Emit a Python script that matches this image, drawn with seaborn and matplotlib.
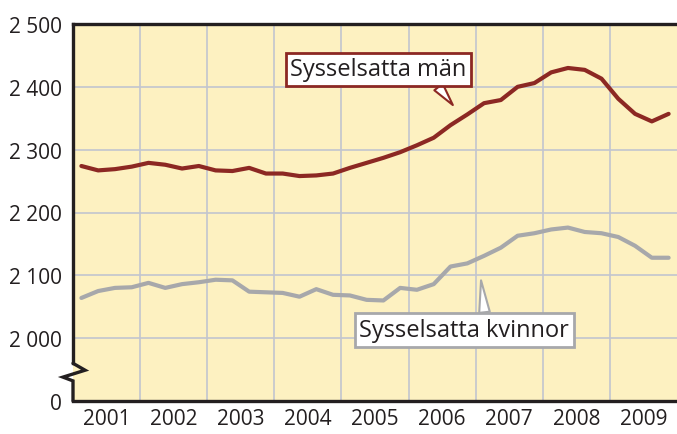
import numpy as np
import pandas as pd
import seaborn as sns
import matplotlib.pyplot as plt
from matplotlib.transforms import blended_transform_factory

# quarterly employment, thousands (2001 Q1 .. 2009 Q4)
years = [2001, 2002, 2003, 2004, 2005, 2006, 2007, 2008, 2009]
quarters = [1, 2, 3, 4]
man = [2274, 2267, 2269, 2273,
       2279, 2276, 2270, 2274,
       2267, 2266, 2271, 2262,
       2262, 2258, 2259, 2262,
       2271, 2279, 2287, 2296,
       2307, 2319, 2339, 2356,
       2374, 2379, 2400, 2406,
       2423, 2430, 2427, 2413,
       2381, 2357, 2345, 2357]
kvinnor = [2064, 2075, 2080, 2081,
           2088, 2080, 2086, 2089,
           2093, 2092, 2074, 2073,
           2072, 2066, 2078, 2069,
           2068, 2061, 2060, 2080,
           2077, 2086, 2114, 2119,
           2131, 2144, 2163, 2167,
           2173, 2176, 2169, 2167,
           2161, 2147, 2128, 2128]
ytick_vals = [1900, 2000, 2100, 2200, 2300, 2400, 2500]
ytick_labels = ["0", "2 000", "2 100", "2 200", "2 300", "2 400", "2 500"]

df = pd.DataFrame({
    "t": [y + (q - 0.5) / 4 for y in years for q in quarters],
    "man": man,
    "kvinnor": kvinnor,
})

sns.set_style("white")
plt.rcParams["font.family"] = ["Open Sans", "DejaVu Sans"]

red = "#8c2823"
grey = "#a7a8ab"
dark = "#231f20"

fig = plt.figure(figsize=(6.77, 4.35), dpi=100)
ax = fig.add_axes([73 / 677, 1 - 402 / 435, 604 / 677, 377 / 435])
ax.set_facecolor("#fdf1c1")

sns.lineplot(data=df, x="t", y="man", color=red, lw=3.0, ax=ax)
sns.lineplot(data=df, x="t", y="kvinnor", color=grey, lw=3.0, ax=ax)

ax.set_xlim(years[0], years[-1] + 1)
ax.set_ylim(ytick_vals[0], ytick_vals[-1])
ax.set_xticks(years[1:])
ax.set_xticklabels([])
ax.set_xticks([y + 0.5 for y in years], minor=True)
ax.set_xticklabels([str(y) for y in years], minor=True)
ax.set_yticks(ytick_vals)
ax.set_yticklabels(ytick_labels)
ax.tick_params(axis="both", which="both", length=0, labelsize=15, colors=dark)
ax.tick_params(axis="x", which="minor", pad=5)
ax.tick_params(axis="y", pad=8)
ax.set_xlabel("")
ax.set_ylabel("")
ax.grid(True, which="major", color="#c2c5cf", lw=1.2)
ax.set_axisbelow(True)

for s in ["left", "bottom", "top"]:
    ax.spines[s].set_visible(True)
    ax.spines[s].set_color(dark)
    ax.spines[s].set_linewidth(2.4)
ax.spines["right"].set_visible(False)

# axis break on the y axis
ax.spines["left"].set_bounds(1960, 2500)
tr = blended_transform_factory(ax.transAxes, ax.transData)
ax.plot([0, 0.02, -0.0166, 0, 0], [1960, 1949, 1938, 1932, 1900],
        transform=tr, color=dark, lw=2.4, clip_on=False,
        solid_joinstyle="miter", zorder=5)

ax.annotate("Sysselsatta män", xy=(2006.66, 2371), xytext=(2005.55, 2428),
            fontsize=17, color=dark, ha="center", va="center",
            bbox=dict(boxstyle="square,pad=0.2", fc="white", ec=red, lw=2),
            arrowprops=dict(arrowstyle="wedge,tail_width=0.45", fc="white",
                            ec=red, lw=1.5, relpos=(0.81, 0.05), shrinkA=0, shrinkB=0))
ax.annotate("Sysselsatta kvinnor", xy=(2007.08, 2092), xytext=(2006.83, 2013),
            fontsize=17, color=dark, ha="center", va="center",
            bbox=dict(boxstyle="square,pad=0.2", fc="white", ec=grey, lw=2),
            arrowprops=dict(arrowstyle="wedge,tail_width=0.45", fc="white",
                            ec=grey, lw=1.5, relpos=(0.6, 0.95), shrinkA=0, shrinkB=0))

fig.savefig("out.png", dpi=100)
